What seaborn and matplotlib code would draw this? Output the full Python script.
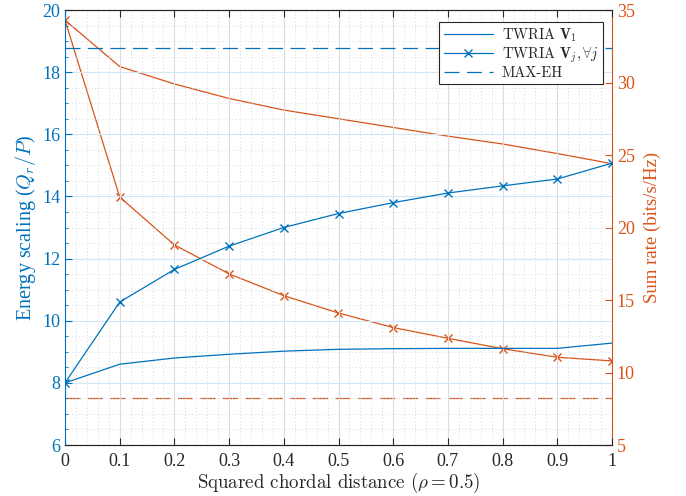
import matplotlib
matplotlib.use("Agg")
import matplotlib.pyplot as plt
from matplotlib.ticker import MultipleLocator, FuncFormatter
import seaborn as sns
import pandas as pd

rho = [0.0, 0.1, 0.2, 0.3, 0.4, 0.5, 0.6, 0.7, 0.8, 0.9, 1.0]
energy_v1 = [8.0, 8.6, 8.8, 8.92, 9.02, 9.08, 9.1, 9.11, 9.11, 9.11, 9.28]
energy_vj = [8.0, 10.6, 11.65, 12.4, 13.0, 13.45, 13.8, 14.11, 14.34, 14.56, 15.07]
energy_maxeh = 18.79
rate_v1 = [34.3, 31.1, 29.9, 28.9, 28.1, 27.5, 26.9, 26.3, 25.76, 25.1, 24.4]
rate_vj = [34.3, 22.1, 18.8, 16.8, 15.3, 14.1, 13.1, 12.36, 11.64, 11.05, 10.8]
rate_maxeh = 8.26

legend_labels = ["TWRIA $\\mathbf{V}_1$", "TWRIA $\\mathbf{V}_j, \\forall j$", "MAX-EH"]

sns.set_style("ticks")
plt.rcParams["font.family"] = ["Liberation Serif", "DejaVu Serif"]
plt.rcParams["mathtext.fontset"] = "cm"
plt.rcParams["axes.unicode_minus"] = False

BLUE = "#0072BD"
ORANGE = "#D95319"

df = pd.DataFrame({"rho": rho, "ev1": energy_v1, "evj": energy_vj,
                   "rv1": rate_v1, "rvj": rate_vj,
                   "emax": [energy_maxeh] * len(rho), "rmax": [rate_maxeh] * len(rho)})

fig = plt.figure(figsize=(6.86, 4.96), dpi=100)
ax = fig.add_axes([65 / 686, 51 / 496, 547 / 686, 435 / 496])
ax2 = ax.twinx()

sns.lineplot(data=df, x="rho", y="ev1", ax=ax, color=BLUE, lw=0.9, label=legend_labels[0])
sns.lineplot(data=df, x="rho", y="evj", ax=ax, color=BLUE, lw=0.9, marker="x",
             markersize=6, markeredgewidth=1.0, markeredgecolor=BLUE, label=legend_labels[1])
sns.lineplot(data=df, x="rho", y="emax", ax=ax, color=BLUE, lw=0.9, label=legend_labels[2])
ax.lines[-1].set_dashes([12, 6])

sns.lineplot(data=df, x="rho", y="rv1", ax=ax2, color=ORANGE, lw=0.9, legend=False)
sns.lineplot(data=df, x="rho", y="rvj", ax=ax2, color=ORANGE, lw=0.9, marker="x",
             markersize=6, markeredgewidth=1.0, markeredgecolor=ORANGE, legend=False)
sns.lineplot(data=df, x="rho", y="rmax", ax=ax2, color=ORANGE, lw=0.9, legend=False)
ax2.lines[-1].set_dashes([12, 6])

ax.set_xlim(0, 1)
ax.set_ylim(6, 20)
ax2.set_ylim(5, 35)
ax.xaxis.set_major_locator(MultipleLocator(0.1))
ax.xaxis.set_minor_locator(MultipleLocator(0.02))
ax.yaxis.set_major_locator(MultipleLocator(2))
ax.yaxis.set_minor_locator(MultipleLocator(0.5))
ax2.yaxis.set_major_locator(MultipleLocator(5))
ax.xaxis.set_major_formatter(FuncFormatter(lambda v, p: "%g" % round(v, 2)))

# grids
ax.set_axisbelow(True)
ax.xaxis.grid(True, which="major", color="#dcdcdc", lw=0.8)
ax.yaxis.grid(True, which="major", color="#d4e6f3", lw=0.8)
ax.xaxis.grid(True, which="minor", color="#c8c8c8", lw=0.6, linestyle=(0, (1, 3)))
ax.yaxis.grid(True, which="minor", color="#c0d6e8", lw=0.6, linestyle=(0, (1, 3)))

# spines & ticks
for a in (ax, ax2):
    a.spines["top"].set_visible(True)
    a.spines["top"].set_color("#262626")
    a.spines["bottom"].set_color("#262626")
    a.spines["top"].set_linewidth(0.8)
    a.spines["bottom"].set_linewidth(0.8)
ax.spines["left"].set_color(BLUE)
ax.spines["right"].set_visible(False)
ax2.spines["right"].set_color(ORANGE)
ax2.spines["left"].set_visible(False)
ax.spines["left"].set_linewidth(0.8)
ax2.spines["right"].set_linewidth(0.8)

ax.tick_params(axis="x", which="major", direction="in", length=5, top=True, bottom=True,
               colors="#262626", labelsize=13, pad=6)
ax.tick_params(axis="x", which="minor", length=0, top=False, bottom=False)
ax.tick_params(axis="y", which="major", direction="in", length=5, colors=BLUE, labelsize=13)
ax.tick_params(axis="y", which="minor", direction="in", length=2.5, colors=BLUE)
ax2.tick_params(axis="y", which="major", direction="in", length=5, colors=ORANGE, labelsize=13)

ax.set_xlabel("Squared chordal distance ($\\rho = 0.5$)", fontsize=13.6,
              family=["cmr10"], color="#262626", labelpad=0)
ax.set_ylabel("Energy scaling ($Q_r/P$)", fontsize=14.5, color=BLUE, labelpad=3)
ax2.set_ylabel("Sum rate (bits/s/Hz)", fontsize=13.5, color=ORANGE, labelpad=6)

leg = ax.legend(loc="upper right", bbox_to_anchor=(1 - 9 / 547, 1 - 12 / 435), borderaxespad=0,
                frameon=True, fancybox=False, edgecolor="#262626", framealpha=1,
                prop={"family": "cmr10", "size": 10.5}, handlelength=3.4, borderpad=0.3,
                labelspacing=0.1, handletextpad=0.6)
leg.get_frame().set_linewidth(0.8)
ax.set_zorder(ax2.get_zorder() + 1)
ax.patch.set_visible(False)
ax2.patch.set_visible(True)
ax2.patch.set_facecolor("white")

fig.savefig("out.png", dpi=100)
